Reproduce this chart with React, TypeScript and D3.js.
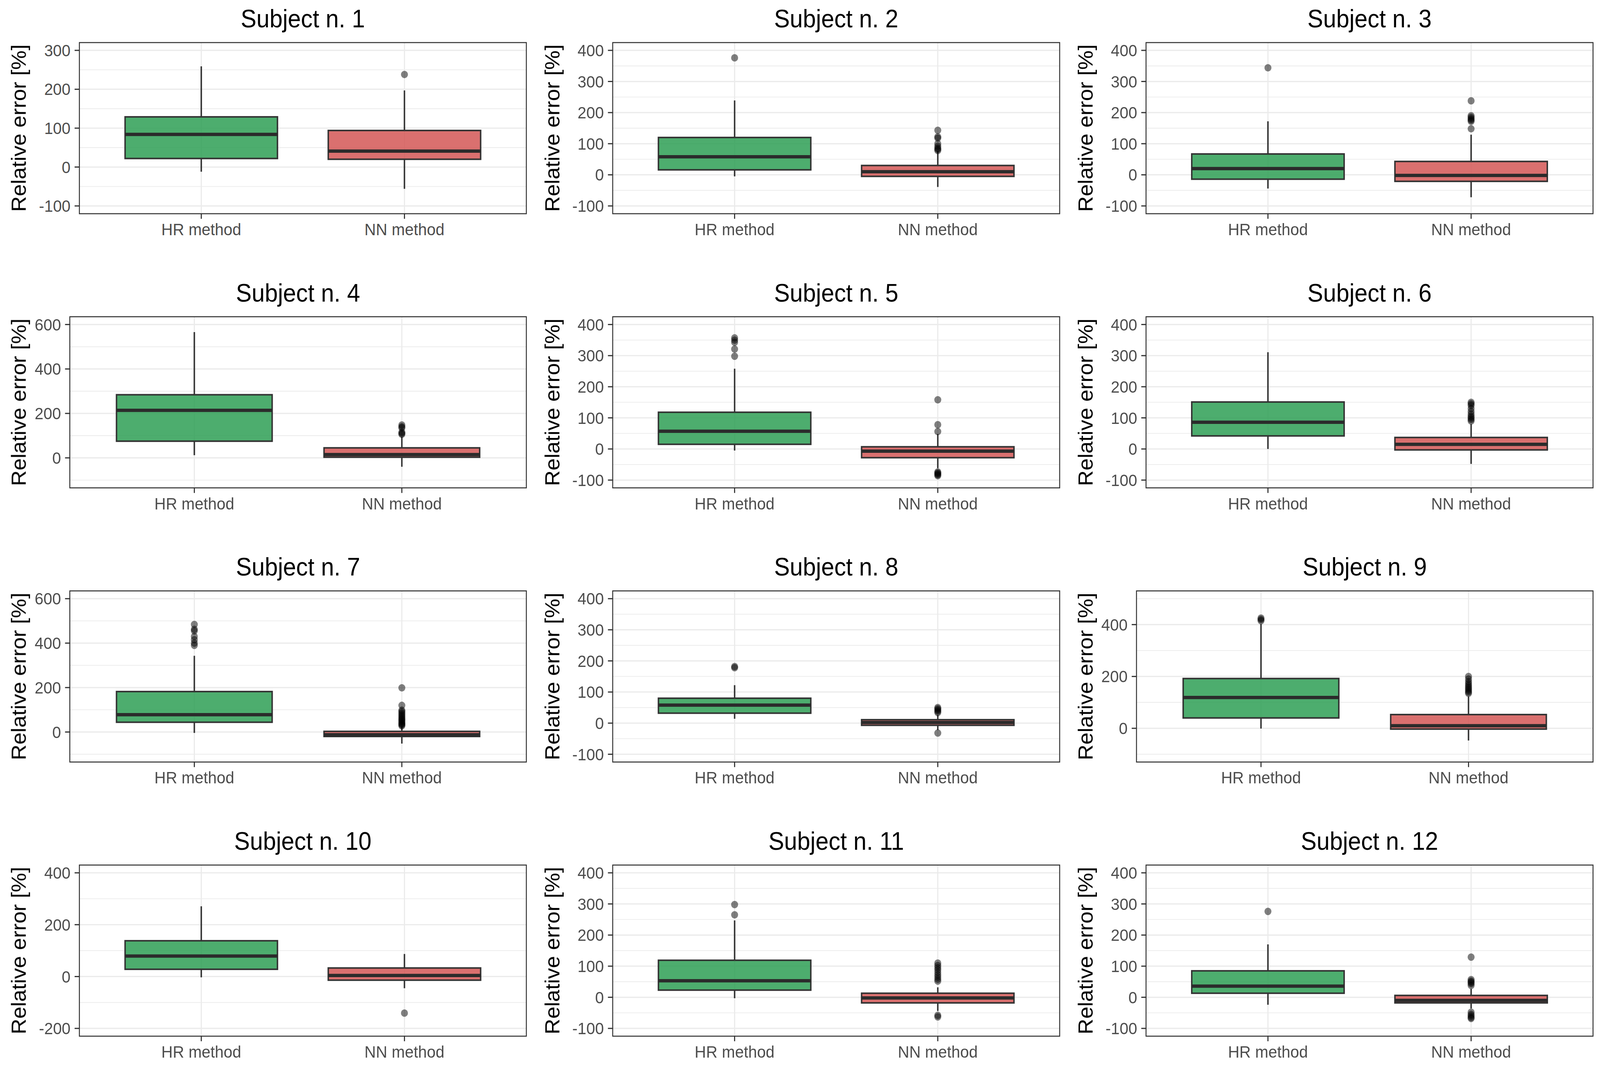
import React from "react";
import * as d3 from "d3";

const W = 4354;
const H = 2731;

const subjects = [
  "Subject n. 1", "Subject n. 2", "Subject n. 3",
  "Subject n. 4", "Subject n. 5", "Subject n. 6",
  "Subject n. 7", "Subject n. 8", "Subject n. 9",
  "Subject n. 10", "Subject n. 11", "Subject n. 12",
];
const methods = ["HR method", "NN method"];

const yLimits = [
  [-100, 300], [-100, 400], [-100, 400],
  [-100, 600], [-100, 400], [-100, 400],
  [-100, 600], [-100, 400], [-100, 500],
  [-200, 400], [-100, 400], [-100, 400],
];
const yBreaks = [
  [-100, 0, 100, 200, 300], [-100, 0, 100, 200, 300, 400], [-100, 0, 100, 200, 300, 400],
  [0, 200, 400, 600], [-100, 0, 100, 200, 300, 400], [-100, 0, 100, 200, 300, 400],
  [0, 200, 400, 600], [-100, 0, 100, 200, 300, 400], [0, 200, 400],
  [-200, 0, 200, 400], [-100, 0, 100, 200, 300, 400], [-100, 0, 100, 200, 300, 400],
];

// [lower whisker, q1, median, q3, upper whisker]
const hrStats = [
  [-12, 22, 84, 129, 259],
  [-5, 16, 58, 120, 239],
  [-44, -14, 20, 67, 172],
  [12, 75, 214, 284, 566],
  [-5, 15, 57, 118, 258],
  [0, 42, 86, 151, 311],
  [-4, 44, 78, 182, 343],
  [14, 32, 58, 80, 122],
  [-1, 40, 119, 192, 402],
  [-3, 28, 79, 138, 271],
  [-3, 23, 53, 119, 247],
  [-24, 13, 36, 85, 170],
];
const nnStats = [
  [-56, 20, 41, 94, 197],
  [-39, -5, 10, 30, 76],
  [-72, -21, -2, 43, 129],
  [-40, 3, 15, 45, 95],
  [-62, -28, -7, 7, 48],
  [-48, -3, 15, 37, 80],
  [-52, -20, -12, 3, 25],
  [-22, -7, 2, 11, 26],
  [-47, -3, 10, 53, 123],
  [-45, -14, 4, 33, 87],
  [-44, -18, -2, 13, 32],
  [-36, -18, -10, 6, 27],
];
const hrOutliers = [
  [],
  [376],
  [344],
  [],
  [357, 350, 343, 321, 298],
  [],
  [484, 462, 455, 430, 415, 400, 390],
  [182, 178],
  [425, 420, 415],
  [],
  [298, 265],
  [276],
];
const nnOutliers = [
  [238],
  [143, 122, 118, 100, 92, 86, 82, 78],
  [238, 190, 185, 180, 176, 172, 148],
  [148, 140, 135, 115, 110, 106],
  [158, 78, 56, -74, -77, -80, -83, -86],
  [150, 145, 140, 130, 120, 112, 105, 100, 95, 90],
  [199, 120, 98, 92, 85, 78, 72, 66, 60, 55, 50, 45, 40, 36, 32, 28],
  [50, 46, 42, 38, 34, -32],
  [200, 190, 180, 172, 165, 158, 152, 146, 140, 135],
  [-141],
  [110, 102, 95, 88, 80, 72, 65, 58, 52, -58, -63],
  [129, 57, 52, 48, 44, 38, -48, -55, -60, -65, -68],
];

const fills = ["#2E9F55", "#D35756"];
const FONT = "'Liberation Sans', Arial, Helvetica, sans-serif";

const colW = W / 3;
const rowPitch = 701.7;
const top0 = 109;
const plotH = 438;

function Panel({ i }: { i: number }) {
  const col = i % 3;
  const row = Math.floor(i / 3);
  const cellX = col * colW;
  const [lo, hi] = yLimits[i];
  const breaks = yBreaks[i];
  const hasNeg = breaks.some((b) => b < 0);
  const left = cellX + (hasNeg ? 216 : 190);
  const right = cellX + colW - 19;
  const topY = top0 + row * rowPitch;
  const botY = topY + plotH;
  const pad = 0.05 * (hi - lo);
  const y = d3.scaleLinear().domain([lo - pad, hi + pad]).range([botY, topY]);
  const x = d3.scalePoint<string>().domain(methods).range([left, right]).padding(0.6);
  const step = x.step();
  const bw = step * 0.75;
  const bstep = breaks[1] - breaks[0];
  const minors: number[] = [];
  for (let v = breaks[0] - bstep / 2; v <= breaks[breaks.length - 1] + bstep / 2 + 1e-9; v += bstep) {
    if (v >= lo - pad && v <= hi + pad) minors.push(v);
  }
  const stats = [hrStats[i], nnStats[i]];
  const outs = [hrOutliers[i], nnOutliers[i]];
  const cx = (left + right) / 2;
  const cy = (topY + botY) / 2;
  return (
    <g>
      <rect x={left} y={topY} width={right - left} height={plotH} fill="#FFFFFF" />
      {minors.map((v, k) => (
        <line key={"mn" + k} x1={left} x2={right} y1={y(v)} y2={y(v)} stroke="#EBEBEB" strokeWidth={1.8} />
      ))}
      {breaks.map((v, k) => (
        <line key={"mj" + k} x1={left} x2={right} y1={y(v)} y2={y(v)} stroke="#EBEBEB" strokeWidth={3.2} />
      ))}
      {methods.map((m) => (
        <line key={"vg" + m} x1={x(m)} x2={x(m)} y1={topY} y2={botY} stroke="#EBEBEB" strokeWidth={3.2} />
      ))}
      {methods.map((m, j) => {
        const [wl, q1, med, q3, wh] = stats[j];
        const px = x(m) as number;
        return (
          <g key={"bx" + m}>
            <line x1={px} x2={px} y1={y(q3)} y2={y(wh)} stroke="#333333" strokeWidth={4} />
            <line x1={px} x2={px} y1={y(q1)} y2={y(wl)} stroke="#333333" strokeWidth={4} />
            <rect x={px - bw / 2} y={y(q3)} width={bw} height={y(q1) - y(q3)} fill={fills[j]} fillOpacity={0.85} stroke="#333333" strokeWidth={4} />
            <line x1={px - bw / 2} x2={px + bw / 2} y1={y(med)} y2={y(med)} stroke="#2B2B2B" strokeWidth={8.5} />
            {outs[j].map((v, k) => (
              <circle key={k} cx={px} cy={y(v)} r={9.5} fill="#000000" fillOpacity={0.5} />
            ))}
          </g>
        );
      })}
      <rect x={left} y={topY} width={right - left} height={plotH} fill="none" stroke="#333333" strokeWidth={2.6} />
      {breaks.map((v, k) => (
        <g key={"yt" + k}>
          <line x1={left - 13} x2={left} y1={y(v)} y2={y(v)} stroke="#333333" strokeWidth={3} />
          <text x={left - 24} y={y(v)} dy="0.35em" textAnchor="end" fontSize={43} fill="#4D4D4D" fontFamily={FONT}>
            {String(v)}
          </text>
        </g>
      ))}
      {methods.map((m) => (
        <g key={"xt" + m}>
          <line x1={x(m)} x2={x(m)} y1={botY} y2={botY + 13} stroke="#333333" strokeWidth={3} />
          <text x={x(m)} y={botY + 55} textAnchor="middle" fontSize={43} fill="#4D4D4D" fontFamily={FONT}>
            {m}
          </text>
        </g>
      ))}
      <text
        transform={`translate(${cellX + 51},${cy}) rotate(-90)`}
        dy="0.35em"
        textAnchor="middle"
        fontSize={55.5}
        fill="#000000"
        fontFamily={FONT}
      >
        Relative error [%]
      </text>
      <text x={cx} y={topY - 39} textAnchor="middle" fontSize={64} fill="#000000" fontFamily={FONT}>
        {subjects[i]}
      </text>
    </g>
  );
}

export default function App() {
  return (
    <svg
      viewBox={`0 0 ${W} ${H}`}
      preserveAspectRatio="none"
      style={{ position: "fixed", left: 0, top: 0, width: "100%", height: "100%", display: "block" }}
    >
      <rect x={0} y={0} width={W} height={H} fill="#FFFFFF" />
      {subjects.map((_, i) => (
        <Panel key={i} i={i} />
      ))}
    </svg>
  );
}
